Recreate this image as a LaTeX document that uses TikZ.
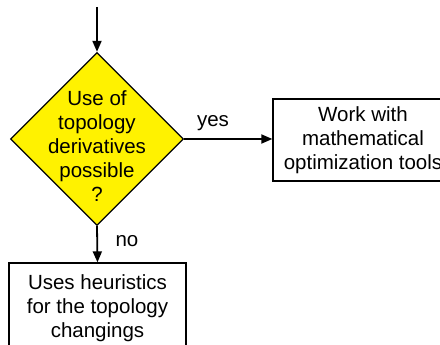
\documentclass[tikz,border=0pt]{standalone}
\usepackage{fontspec}
\setmainfont{Liberation Sans}
\usetikzlibrary{shapes.geometric,arrows.meta}
\begin{document}
\begin{tikzpicture}[x=1pt, y=1pt, font=\fontsize{20.5}{24}\selectfont, >={Triangle[length=11pt,width=9pt]}]

\tikzset{
  decision/.style={draw, diamond, fill=yellow, line width=1.3pt, minimum width=173pt, minimum height=173pt, inner sep=0pt},
  action/.style={draw, rectangle, fill=white, line width=1.3pt, align=center, inner sep=0pt},
  arr/.style={->, line width=1.8pt}
}

\useasboundingbox (0,0) rectangle (440,345);

% Decision
\coordinate (in) at (97,338);
\node[decision, label={[align=center, yshift=-7pt]center:Use of\\topology\\derivatives\\possible\\?}] (dec) at (97,206) {};

\draw[arr] (in) -- (dec.north);

% Yes branch
\node[action, minimum width=180pt, minimum height=82pt] (math) at (363,205) {Work with\\mathematical\\optimization tools};
\draw[arr] (dec.east) -- (dec.east -| math.west);
\node (yes) at (213,222) {yes};

% No branch
\node[action, minimum width=177pt, minimum height=90pt] (heur) at (97.5,37) {Uses heuristics\\for the topology\\changings};
\draw[arr] (dec.south) -- (heur.north);
\node (no) at (127,104) {no};

\end{tikzpicture}
\end{document}
